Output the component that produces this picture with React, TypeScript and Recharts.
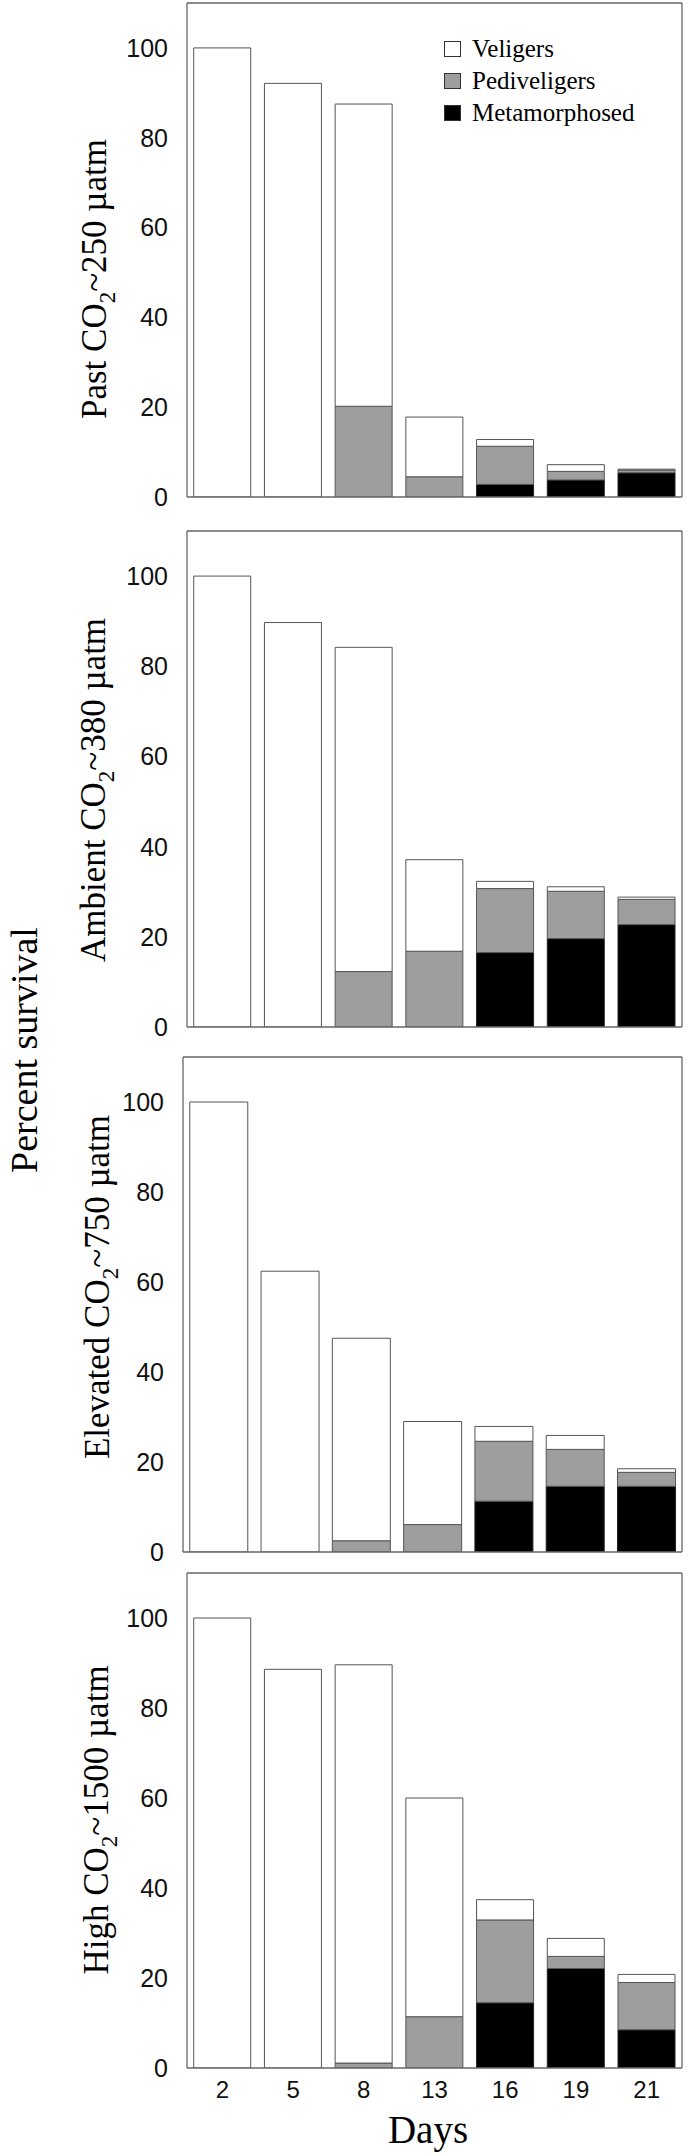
import React from 'react';
import { BarChart, Bar, XAxis, YAxis, Legend } from 'recharts';

// ---------- data ----------
const days = ['2', '5', '8', '13', '16', '19', '21'];
const seriesNames = ['Veligers', 'Pediveligers', 'Metamorphosed'];
const yTicks = [0, 20, 40, 60, 80, 100];
const boundaryTicks = [1, 2, 3, 4, 5, 6];

// Past CO2 ~250 uatm
const pastMeta = [0, 0, 0, 0, 2.8, 3.8, 5.4];
const pastPedi = [0, 0, 20.2, 4.5, 8.5, 1.9, 0.6];
const pastVeli = [100, 92.1, 67.3, 13.3, 1.5, 1.5, 0.2];

// Ambient CO2 ~380 uatm
const ambMeta = [0, 0, 0, 0, 16.5, 19.6, 22.7];
const ambPedi = [0, 0, 12.3, 16.8, 14.2, 10.5, 5.6];
const ambVeli = [100, 89.7, 71.9, 20.3, 1.6, 1.0, 0.5];

// Elevated CO2 ~750 uatm
const elvMeta = [0, 0, 0, 0, 11.3, 14.6, 14.6];
const elvPedi = [0, 0, 2.5, 6.1, 13.3, 8.2, 3.1];
const elvVeli = [100, 62.4, 45.0, 22.9, 3.3, 3.1, 0.8];

// High CO2 ~1500 uatm
const highMeta = [0, 0, 0, 0, 14.5, 22.1, 8.5];
const highPedi = [0, 0, 1.1, 11.4, 18.4, 2.7, 10.5];
const highVeli = [100, 88.6, 88.5, 48.6, 4.5, 4.0, 1.8];

const buildData = (meta: number[], pedi: number[], veli: number[]) =>
  days.map((d, i) => ({ day: d, meta: meta[i], pedi: pedi[i], veli: veli[i] }));

// ---------- style ----------
const SANS = '"Liberation Sans", Arial, Helvetica, sans-serif';
const SERIF = '"Liberation Serif", "Times New Roman", Times, serif';
const AXIS = '#666';
const FILLS: Record<string, string> = {
  Veligers: '#ffffff',
  Pediveligers: '#9e9e9e',
  Metamorphosed: '#000000',
};

type PanelProps = {
  data: any[];
  prefix: string;
  suffix: string;
  plotTop: number;
  plotBottom: number;
  plotLeft: number;
  labelCenterY: number;
  labelBaseX: number;
  showX: boolean;
  showLegend: boolean;
};

const renderLegend = (props: any) => {
  const payload: any[] = props.payload || [];
  const ordered = seriesNames.map((n) => payload.find((p) => p.value === n)).filter(Boolean);
  return (
    <div>
      {ordered.map((it: any) => (
        <div key={it.value} style={{ display: 'flex', alignItems: 'center', height: 32 }}>
          <span
            style={{
              display: 'inline-block',
              width: 17,
              height: 16,
              background: FILLS[it.value],
              border: '1.3px solid #333',
              boxSizing: 'border-box',
              marginRight: 11,
            }}
          />
          <span style={{ fontFamily: SERIF, fontSize: 25, color: '#000', lineHeight: '32px' }}>{it.value}</span>
        </div>
      ))}
    </div>
  );
};

function Panel(p: PanelProps) {
  const marginTop = 10;
  const plotH = p.plotBottom - p.plotTop;
  const xAxisH = p.showX ? 85 : 1;
  const marginBottom = p.showX ? 0 : 22;
  const height = marginTop + plotH + xAxisH + marginBottom;
  const chartTop = p.plotTop - marginTop;
  const yAxisW = 70;
  const cy = p.labelCenterY - chartTop;
  const lx = p.labelBaseX;

  const panelLabel = () => (
    <text
      x={lx}
      y={cy}
      transform={`rotate(-90, ${lx}, ${cy})`}
      textAnchor="middle"
      fontFamily={SERIF}
      fontSize={35}
      fill="#000"
    >
      <tspan>{p.prefix}</tspan>
      <tspan fontSize={23} dy={9}>2</tspan>
      <tspan dy={-9}>{p.suffix}</tspan>
    </text>
  );

  const daysLabel = () => (
    <text x={428} y={2143 - chartTop} textAnchor="middle" fontFamily={SERIF} fontSize={39} fill="#000">
      Days
    </text>
  );

  return (
    <div style={{ position: 'absolute', left: 0, top: chartTop }}>
      <BarChart
        width={690}
        height={height}
        data={p.data}
        margin={{ top: marginTop, right: 8, bottom: marginBottom, left: p.plotLeft - yAxisW }}
        barCategoryGap="9.5%"
      >
        <XAxis
          xAxisId="cat"
          dataKey="day"
          type="category"
          orientation="bottom"
          height={xAxisH}
          interval={0}
          axisLine={{ stroke: AXIS, strokeWidth: 1.3 }}
          tickLine={false}
          tickSize={0}
          tickMargin={13}
          tick={p.showX ? { fontSize: 24, fill: '#111', fontFamily: SANS } : false}
          label={p.showX ? { content: daysLabel } : undefined}
        />
        <XAxis
          xAxisId="bt"
          type="number"
          domain={[0, 7]}
          ticks={boundaryTicks}
          orientation="bottom"
          mirror
          height={1}
          interval={0}
          axisLine={false}
          tick={false}
          tickLine={{ stroke: AXIS, strokeWidth: 1.2 }}
          tickSize={8}
          allowDataOverflow
        />
        <XAxis
          xAxisId="tp"
          type="number"
          domain={[0, 7]}
          ticks={boundaryTicks}
          orientation="top"
          mirror
          height={1}
          interval={0}
          axisLine={{ stroke: AXIS, strokeWidth: 1.3 }}
          tick={false}
          tickLine={{ stroke: AXIS, strokeWidth: 1.2 }}
          tickSize={8}
          allowDataOverflow
        />
        <YAxis
          yAxisId="lbl"
          domain={[0, 110]}
          ticks={yTicks}
          width={yAxisW}
          interval={0}
          allowDataOverflow
          axisLine={{ stroke: AXIS, strokeWidth: 1.3 }}
          tickLine={false}
          tickSize={0}
          tickMargin={19}
          tick={{ fontSize: 25, fill: '#111', fontFamily: SANS }}
          label={{ content: panelLabel }}
        />
        <YAxis
          yAxisId="lt"
          domain={[0, 110]}
          ticks={yTicks}
          mirror
          width={1}
          interval={0}
          allowDataOverflow
          axisLine={false}
          tick={false}
          tickLine={{ stroke: AXIS, strokeWidth: 1.2 }}
          tickSize={7}
        />
        <YAxis
          yAxisId="rt"
          orientation="right"
          domain={[0, 110]}
          ticks={yTicks}
          mirror
          width={1}
          interval={0}
          allowDataOverflow
          axisLine={{ stroke: AXIS, strokeWidth: 1.3 }}
          tick={false}
          tickLine={{ stroke: AXIS, strokeWidth: 1.2 }}
          tickSize={7}
        />
        {p.showLegend && (
          <Legend
            layout="vertical"
            align="center"
            verticalAlign="middle"
            wrapperStyle={{ left: 444, top: 33 - chartTop, width: 240 }}
            content={renderLegend}
          />
        )}
        <Bar xAxisId="cat" yAxisId="lbl" dataKey="meta" name="Metamorphosed" stackId="s" fill={FILLS.Metamorphosed} stroke="#222" strokeWidth={1} isAnimationActive={false} />
        <Bar xAxisId="cat" yAxisId="lbl" dataKey="pedi" name="Pediveligers" stackId="s" fill={FILLS.Pediveligers} stroke="#555" strokeWidth={1} isAnimationActive={false} />
        <Bar xAxisId="cat" yAxisId="lbl" dataKey="veli" name="Veligers" stackId="s" fill={FILLS.Veligers} stroke="#555" strokeWidth={1} isAnimationActive={false} />
      </BarChart>
    </div>
  );
}

export default function App() {
  return (
    <div style={{ position: 'absolute', left: 0, top: 0, width: 690, height: 2156, background: '#fff', overflow: 'hidden' }}>
      <Panel data={buildData(pastMeta, pastPedi, pastVeli)} prefix="Past CO" suffix="~250 µatm" plotTop={3} plotBottom={497} plotLeft={187} labelCenterY={279} labelBaseX={106} showX={false} showLegend={true} />
      <Panel data={buildData(ambMeta, ambPedi, ambVeli)} prefix="Ambient CO" suffix="~380 µatm" plotTop={531} plotBottom={1027} plotLeft={187} labelCenterY={790} labelBaseX={105} showX={false} showLegend={false} />
      <Panel data={buildData(elvMeta, elvPedi, elvVeli)} prefix="Elevated CO" suffix="~750 µatm" plotTop={1057} plotBottom={1552} plotLeft={183} labelCenterY={1287} labelBaseX={109} showX={false} showLegend={false} />
      <Panel data={buildData(highMeta, highPedi, highVeli)} prefix="High CO" suffix="~1500 µatm" plotTop={1573} plotBottom={2068} plotLeft={187} labelCenterY={1820} labelBaseX={108} showX={true} showLegend={false} />
      <svg width={690} height={2156} style={{ position: 'absolute', left: 0, top: 0, pointerEvents: 'none' }}>
        <text x={37} y={1050} transform="rotate(-90, 37, 1050)" textAnchor="middle" fontFamily={SERIF} fontSize={38} fill="#000">
          Percent survival
        </text>
      </svg>
    </div>
  );
}
